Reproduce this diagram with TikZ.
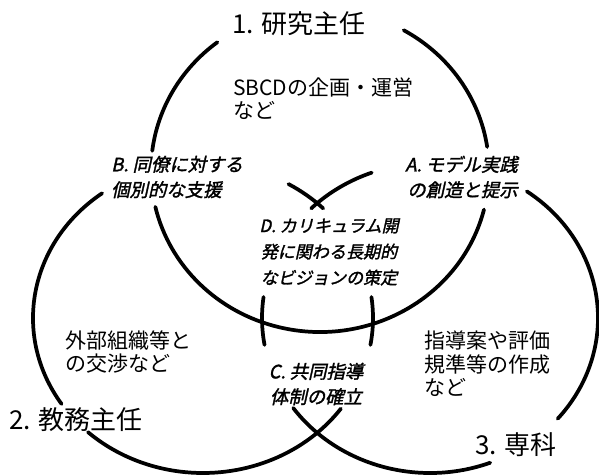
\documentclass[tikz,border=0pt]{standalone}
\usepackage{fontspec}
\setmainfont{Noto Sans CJK JP}
\newfontfamily\labfont[FakeSlant=0.22,FakeBold=1.6]{Noto Sans CJK JP}
\newcommand\ringarc[5]{\draw[ring] ([shift={(#2:#4 and #5)}]#1) arc[start angle=#2, end angle=#3, x radius=#4, y radius=#5];}
\begin{document}
\begin{tikzpicture}[x=0.75pt,y=-0.75pt,
  ring/.style={line width=2.8pt, line cap=round},
  title/.style={font=\fontsize{19.5}{22}\selectfont, inner sep=0pt},
  body/.style={font=\fontsize{15.75}{17.5}\selectfont, align=left, inner sep=0pt},
  lab/.style={font=\labfont\fontsize{13.8}{19}\selectfont, inner sep=0pt},
  labd/.style={font=\labfont\fontsize{12.8}{19.5}\selectfont, inner sep=0pt}]
\useasboundingbox (0,0) rectangle (599,475);
\coordinate (T) at (320,170.5);
\coordinate (L) at (203,318);
\coordinate (R) at (430,318);
% top circle
\ringarc{T}{-60.3}{-8.4}{169}{161.5}
\ringarc{T}{14}{167}{169}{161.5}
\ringarc{T}{187}{232.6}{169}{161.5}
% left circle
\ringarc{L}{-59.8}{-45}{170}{155}
\ringarc{L}{-7.8}{10}{170}{155}
\ringarc{L}{35.8}{132.6}{170}{155}
\ringarc{L}{146.3}{233.6}{170}{155}
% right circle
\ringarc{R}{-135}{-110.3}{168}{155}
\ringarc{R}{-54.8}{40.5}{168}{155}
\ringarc{R}{69}{144.5}{168}{155}
\ringarc{R}{170}{187.8}{168}{155}
% texts
\node[title] (t1) at (299,24) {1. 研究主任};
\node[body, anchor=west] (s1) at (233,99) {SBCDの企画・運営\\など};
\node[lab, anchor=west, align=left] (lb) at (111,177) {B. 同僚に対する\\個別的な支援};
\node[lab, anchor=east, align=right] (la) at (518,177) {A. モデル実践\\の創造と提示};
\node[labd, align=center] (ld) at (329,252) {D. カリキュラム開\\発に関わる長期的\\なビジョンの策定};
\node[lab, align=center] (lc) at (316,384) {C. 共同指導\\体制の確立};
\node[body, anchor=west] (s2) at (65,352) {外部組織等と\\の交渉など};
\node[body, anchor=west] (s3) at (424,364) {指導案や評価\\規準等の作成\\など};
\node[title, anchor=west] (t2) at (9,420) {2. 教務主任};
\node[title] (t3) at (516,445) {3. 専科};
\end{tikzpicture}
\end{document}
